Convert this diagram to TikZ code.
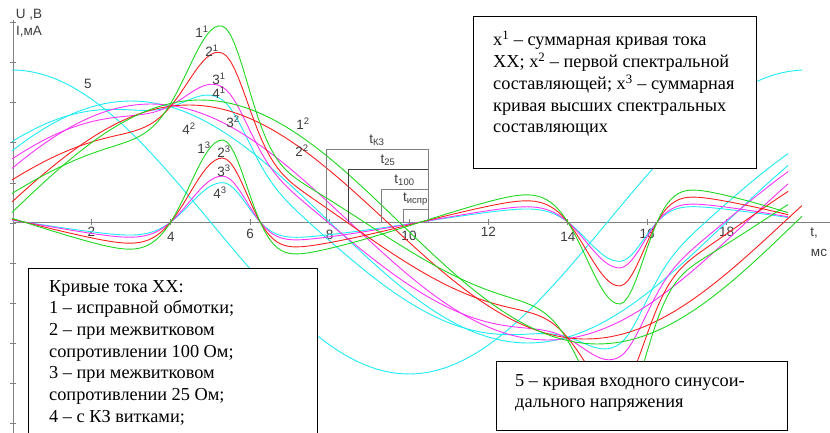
\documentclass[tikz,border=0pt]{standalone}
\usepackage{fontspec}
\setmainfont{Liberation Serif}
\setsansfont{Liberation Sans}
\usetikzlibrary{positioning}
\definecolor{cgrn}{RGB}{30,215,30}
\definecolor{cred}{RGB}{250,30,30}
\definecolor{cmag}{RGB}{250,50,250}
\definecolor{ccyn}{RGB}{30,235,245}
\definecolor{caxis}{RGB}{128,128,128}
\definecolor{ctxt}{RGB}{60,60,60}

\begin{document}
\begin{tikzpicture}[x=1pt,y=-1pt,
    declare function={pk(\t)=exp(-(\t*\t)/ifthenelse(\t<0,1.41,0.78));
      hh(\t)=122*(pk(\t-5.3)-pk(\t-15.3))-40*cos(18*(\t-5.3));}]
      \tikzstyle{crv}=[line width=0.9pt]
      \tikzstyle{ax}=[draw=caxis,line width=1pt]
      \tikzstyle{brk}=[draw=caxis,line width=0.9pt]
      \tikzstyle{lbl}=[font=\sffamily\fontsize{13.5}{15}\selectfont,text=ctxt,inner sep=0pt]
      \tikzstyle{box}=[draw=black,fill=white,line width=0.8pt,inner sep=0pt]
      \tikzstyle{boxtext}=[font=\fontsize{18.3}{21.7}\selectfont,align=left,inner sep=0pt,anchor=north west]
      \useasboundingbox (0,0) rectangle (830,433);
      \draw[ax] (13,20) -- (13,433);
      \draw[ax] (13,222) -- (830,222);
      \foreach \k in {0,...,10} \draw[ax] (10,{23+40*\k}) -- ++(6,0);
      \foreach \v/\yy in {2/232,4/237,6/234,8/235,10/236,12/232,14/237,16/234,18/232}{
        \draw[ax] ({12+39.7*\v},219) -- ++(0,6);
        \node[lbl] (n\v) at ({12+39.7*\v},\yy) {\v};
      }
      \begin{scope}[shift={(12pt,-222pt)},x=39.7pt,y=1pt]
        \draw[crv,ccyn] plot[domain=0:19.9,samples=120] (\x,{152*cos(18*\x)});
        \foreach \c/\A/\p/\s/\k/\B/\e in {ccyn/121/3.0/0.48/0.42/8/19.55, cmag/118/3.5/0.56/0.47/8/19.55, cred/117/4.45/0.78/0.78/20/19.9, cgrn/122/4.75/1/1/16/19.9}{
          \draw[crv,\c] plot[domain=0:\e,samples=120] (\x,{\A*cos(18*(\x-\p))});
          \draw[crv,\c] plot[domain=0:19.55,samples=200] (\x,{\A*cos(18*(\x-\p))+\k*hh(\x)-\B*sin(18*(\x-4))});
          \draw[crv,\c] plot[domain=0:19.55,samples=200] (\x,{\s*hh(\x)});
        }
      \end{scope}
      \coordinate (ekz) at (428,222);
      \draw[brk] (ekz) -- ++(0,-73);
      \foreach \n/\xs/\ys/\lab/\col in {kz/326/149/КЗ/caxis, 25/348/169/25/darkgray, 100/381/189/100/caxis, ispr/403/209/испр/caxis}
        \draw[brk,draw=\col] (\xs,222) -- (\xs,\ys) -- node[lbl,above=3pt] (t\n) {t\textsubscript{\lab}} (ekz |- 0,\ys);
      \node[lbl] (l5) at (88,84) {5};
      \node[lbl] (l11) at (202,32) {1\textsuperscript{1}};
      \node[lbl] (l21) at (212,51) {2\textsuperscript{1}};
      \node[lbl] (l31) at (219,79) {3\textsuperscript{1}};
      \node[lbl] (l41) at (219,93) {4\textsuperscript{1}};
      \node[lbl] (l12) at (303,124) {1\textsuperscript{2}};
      \node[lbl] (l22) at (302,151) {2\textsuperscript{2}};
      \node[lbl] (l32) at (233,122) {3\textsuperscript{2}};
      \node[lbl] (l42) at (189,129) {4\textsuperscript{2}};
      \node[lbl] (l13) at (204,148) {1\textsuperscript{3}};
      \node[lbl] (l23) at (224,152) {2\textsuperscript{3}};
      \node[lbl] (l33) at (224,171) {3\textsuperscript{3}};
      \node[lbl] (l43) at (220,193) {4\textsuperscript{3}};
      \node[lbl] (uax) at (29,15) {U ,B};
      \node[lbl] (iax) at (29,32) {I,мА};
      \node[lbl] (tax) at (814,233) {t,};
      \node[lbl] (msax) at (819,253) {мс};
      \node[box,anchor=north west,minimum width=283pt,minimum height=152pt] (legA) at (473,16) {};
      \node[boxtext] (legAtext) at (493,31) {x\textsuperscript{1} – суммарная кривая тока\\ХХ; x\textsuperscript{2} – первой спектральной\\составляющей; x\textsuperscript{3} – суммарная\\кривая высших спектральных\\составляющих};
      \node[box,anchor=north west,minimum width=289pt,minimum height=190pt] (legB) at (28,268) {};
      \node[boxtext] (legBtext) at (49,280) {Кривые тока ХХ:\\1 – исправной обмотки;\\2 – при межвитковом\\сопротивлении 100 Ом;\\3 – при межвитковом\\сопротивлении 25 Ом;\\4 – с КЗ витками;};
      \node[box,anchor=north west,minimum width=291pt,minimum height=69pt] (legC) at (496,361) {};
      \node[boxtext] (legCtext) at (515,374) {5 – кривая входного синусои-\\дального напряжения};
\end{tikzpicture}
\end{document}
